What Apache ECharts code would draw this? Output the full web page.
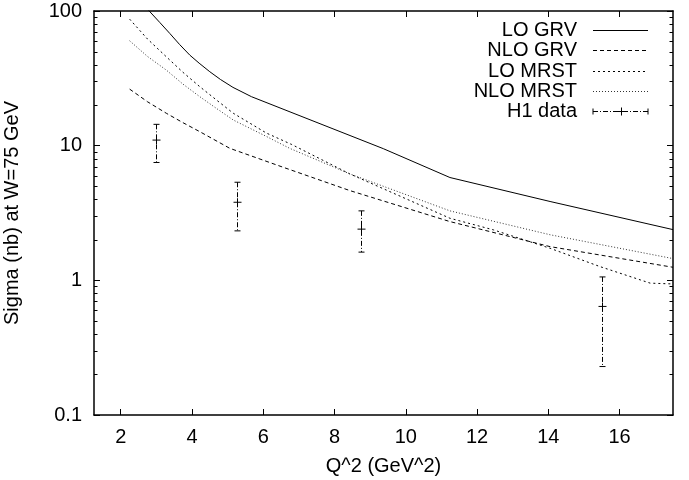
<!DOCTYPE html>
<html>
<head>
<meta charset="utf-8">
<script src="https://cdn.jsdelivr.net/npm/echarts@6/dist/echarts.min.js"></script>
<style>
  html, body { margin: 0; padding: 0; background: #fff; }
  #chart { width: 689px; height: 480px; }
</style>
</head>
<body>
<div id="chart"></div>
<script>
// Q^2 (GeV^2) and sigma (nb)
const loGrvQ2 = [2.25, 2.8, 3.1, 3.38, 3.65, 3.94, 4.2, 4.5, 4.8, 5.15, 5.67, 9.37, 11.24, 14.05, 17.5];
const loGrvSigma = [145, 100, 82, 68, 56.5, 47, 41, 35.4, 31, 27.1, 23.1, 9.5, 5.8, 3.85, 2.38];

const nloGrvQ2 = [2.25, 2.75, 3.28, 3.75, 4.22, 5.06, 6.5, 8.43, 11.24, 14.05, 17.5];
const nloGrvSigma = [26.3, 21.2, 17.4, 14.8, 12.7, 9.56, 7.0, 4.64, 2.73, 1.78, 1.25];

const loMrstQ2 = [2.25, 2.75, 3.28, 3.75, 4.22, 4.7, 5.16, 6.09, 6.8, 8.43, 11.24, 12.46, 14.05, 15.45, 16.86, 17.5];
const loMrstSigma = [87, 62, 45.7, 35, 27.4, 21.7, 17.4, 12.4, 10.2, 6.17, 2.89, 2.37, 1.73, 1.265, 0.953, 0.94];

const nloMrstQ2 = [2.25, 2.75, 3.28, 3.75, 4.22, 4.7, 5.16, 6.09, 6.74, 8.43, 11.24, 14.05, 17.5];
const nloMrstSigma = [60.1, 46, 36.4, 28.6, 23.1, 18.8, 15.5, 11.7, 9.56, 6.17, 3.28, 2.18, 1.45];

const h1Q2 = [3.0, 5.25, 8.75, 15.5];
const h1Sigma = [11.0, 3.8, 2.4, 0.64];
const h1Low = [7.5, 2.33, 1.62, 0.229];
const h1High = [14.4, 5.35, 3.28, 1.06];

const xTicks = [2, 4, 6, 8, 10, 12, 14, 16];
const yMinorTicks = [0.2, 0.3, 0.4, 0.5, 0.6, 0.7, 0.8, 0.9,
                     2, 3, 4, 5, 6, 7, 8, 9,
                     20, 30, 40, 50, 60, 70, 80, 90];
const seriesNames = ['LO GRV', 'NLO GRV', 'LO MRST', 'NLO MRST', 'H1 data'];

const X_MIN = 1.25, X_MAX = 17.5;
const FONT = '"Liberation Sans", Arial, Helvetica, sans-serif';
const FS = 20;

// gnuplot-ish line types
const dashes = {
    'LO GRV': 'solid',
    'NLO GRV': [4, 3],
    'LO MRST': [2, 3],
    'NLO MRST': [1, 2],
    'H1 data': [5, 2, 1, 2],
};
const colors = {
    'LO GRV': '#000',
    'NLO GRV': '#000',
    'LO MRST': '#000',
    'NLO MRST': '#333',
    'H1 data': '#000',
};

const pairs = (xs, ys) => xs.map((x, i) => [x, ys[i]]);

const curve = (name, xs, ys) => ({
    name,
    type: 'line',
    data: pairs(xs, ys),
    symbol: 'none',
    smooth: false,
    silent: true,
    clip: true,
    lineStyle: {color: colors[name], width: 1, type: dashes[name]},
});

const chart = echarts.init(document.getElementById('chart'), null, {renderer: 'canvas'});

const axisLine = {show: true, lineStyle: {color: '#000', width: 1.5}};
const labelStyle = {color: '#000', fontSize: FS, fontFamily: FONT};

function xAxis(position, withLabels) {
    return {
        type: 'value',
        position,
        min: X_MIN,
        max: X_MAX,
        axisLine,
        splitLine: {show: false},
        axisTick: {show: true, inside: true, length: 6, customValues: xTicks, lineStyle: {color: '#000'}},
        axisLabel: withLabels ? {...labelStyle, customValues: xTicks, margin: 12} : {show: false},
        name: withLabels ? 'Q^2 (GeV^2)' : '',
        nameLocation: 'middle',
        nameGap: 41,
        nameTextStyle: labelStyle,
    };
}

function yAxis(position, withLabels) {
    return {
        type: 'log',
        logBase: 10,
        position,
        min: 0.1,
        max: 100,
        axisLine,
        splitLine: {show: false},
        minorTick: {show: false},
        axisTick: {show: true, inside: true, length: 6, lineStyle: {color: '#000'}},
        axisLabel: withLabels ? {...labelStyle, margin: 12} : {show: false},
        name: withLabels ? 'Sigma (nb) at W=75 GeV' : '',
        nameLocation: 'middle',
        nameGap: 72,
        nameRotate: 90,
        nameTextStyle: labelStyle,
    };
}

// small log ticks on both sides of the frame
const minorTickSeries = {
    type: 'custom',
    silent: true,
    clip: false,
    data: yMinorTicks.map(v => [X_MIN, v]),
    encode: {x: 0, y: 1},
    renderItem(params, api) {
        const cs = params.coordSys;
        const y = Math.round(api.coord([X_MIN, api.value(1)])[1]) + 0.5;
        const st = {stroke: '#000', lineWidth: 1};
        return {
            type: 'group',
            children: [
                {type: 'line', shape: {x1: cs.x, y1: y, x2: cs.x + 3.5, y2: y}, style: st},
                {type: 'line', shape: {x1: cs.x + cs.width - 3.5, y1: y, x2: cs.x + cs.width, y2: y}, style: st},
            ],
        };
    },
};

const errorBarSeries = {
    name: 'H1 data',
    type: 'custom',
    silent: true,
    data: h1Q2.map((x, i) => [x, h1Sigma[i], h1Low[i], h1High[i]]),
    encode: {x: 0, y: [1, 2, 3]},
    renderItem(params, api) {
        const x = api.value(0);
        const c = api.coord([x, api.value(1)]);
        const lo = api.coord([x, api.value(2)]);
        const hi = api.coord([x, api.value(3)]);
        const px = Math.round(c[0]) + 0.5;
        const st = {stroke: '#000', lineWidth: 1};
        return {
            type: 'group',
            children: [
                {type: 'line', shape: {x1: px, y1: hi[1], x2: px, y2: lo[1]},
                    style: {...st, lineDash: dashes['H1 data']}},
                {type: 'line', shape: {x1: px - 3, y1: hi[1], x2: px + 3, y2: hi[1]}, style: st},
                {type: 'line', shape: {x1: px - 3, y1: lo[1], x2: px + 3, y2: lo[1]}, style: st},
                {type: 'line', shape: {x1: px - 4, y1: c[1], x2: px + 4, y2: c[1]}, style: st},
                {type: 'line', shape: {x1: px, y1: c[1] - 4, x2: px, y2: c[1] + 4}, style: st},
            ],
        };
    },
};

// key in the top right corner, gnuplot style
const legendGraphics = [];
const keyTextRight = 577, keyX1 = 593, keyX2 = 648, keyTop = 30, keyStep = 20.3;
seriesNames.forEach((name, i) => {
    const y = Math.round(keyTop + i * keyStep) + 0.5;
    legendGraphics.push({
        type: 'text',
        x: keyTextRight,
        y,
        style: {text: name, fill: '#000', font: `${FS}px ${FONT}`, align: 'right', verticalAlign: 'middle'},
    });
    legendGraphics.push({
        type: 'line',
        shape: {x1: keyX1, y1: y, x2: keyX2, y2: y},
        style: {stroke: colors[name], lineWidth: 1, lineDash: dashes[name] === 'solid' ? null : dashes[name]},
    });
    if (name === 'H1 data') {
        const mid = Math.round((keyX1 + keyX2) / 2) + 0.5;
        const st = {stroke: '#000', lineWidth: 1};
        legendGraphics.push({type: 'line', shape: {x1: keyX1, y1: y - 3, x2: keyX1, y2: y + 3}, style: st});
        legendGraphics.push({type: 'line', shape: {x1: keyX2, y1: y - 3, x2: keyX2, y2: y + 3}, style: st});
        legendGraphics.push({type: 'line', shape: {x1: mid - 4, y1: y, x2: mid + 4, y2: y}, style: st});
        legendGraphics.push({type: 'line', shape: {x1: mid, y1: y - 4, x2: mid, y2: y + 4}, style: st});
    }
});

chart.setOption({
    animation: false,
    backgroundColor: '#fff',
    textStyle: {fontFamily: FONT},
    grid: {left: 94, right: 16, top: 11, bottom: 65, containLabel: false, outerBoundsMode: 'none'},
    xAxis: [xAxis('bottom', true), xAxis('top', false)],
    yAxis: [yAxis('left', true), yAxis('right', false)],
    series: [
        curve('LO GRV', loGrvQ2, loGrvSigma),
        curve('NLO GRV', nloGrvQ2, nloGrvSigma),
        curve('LO MRST', loMrstQ2, loMrstSigma),
        curve('NLO MRST', nloMrstQ2, nloMrstSigma),
        errorBarSeries,
        minorTickSeries,
    ],
    graphic: legendGraphics,
});
</script>
</body>
</html>
